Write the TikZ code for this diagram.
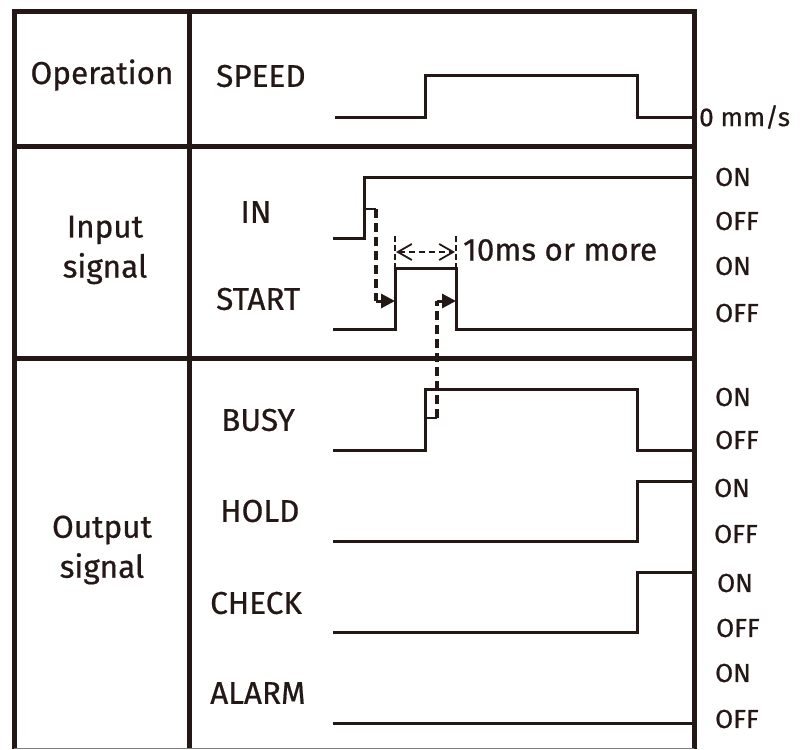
\documentclass[tikz,border=0pt]{standalone}
\usepackage{fontspec}
\setmainfont{Fira Sans}[FakeBold=0.6]
\usetikzlibrary{arrows.meta}
\definecolor{ink}{RGB}{35,24,21}
\tikzset{
  frame/.style={line width=5pt, ink},
  sig/.style={line width=3pt, ink, line join=miter},
  dsh/.style={line width=3.2pt, ink, dash pattern=on 9pt off 5pt},
  arr/.style={line width=3pt, ink, -{Triangle[length=14pt,width=14pt]}},
  dim/.style={line width=1.8pt, ink, dash pattern=on 6pt off 4pt, {Straight Barb[length=14pt,width=16pt,line width=1.8pt]}-{Straight Barb[length=14pt,width=16pt,line width=1.8pt]}},
  tick/.style={line width=1.8pt, ink, dash pattern=on 6pt off 3pt},
  big/.style={font=\fontsize{31.5}{40}\selectfont, text=ink, inner sep=0pt},
  small/.style={font=\fontsize{26}{30}\selectfont, text=ink, inner sep=0pt, anchor=west},
}
\begin{document}
\begin{tikzpicture}[x=1pt,y=-1pt]
\useasboundingbox (0,0) rectangle (802,749);
% frame
\coordinate (tl) at (14,12);
\coordinate (tr) at (694,12);
\coordinate (bl) at (14,749);
\coordinate (br) at (694,749);
\draw[frame] (14,749) -- (14,12) -- (694,12) -- (694,749);
\draw[frame] (189,12) -- (189,749);
\draw[frame] (14,146) -- (694,146);
\draw[frame] (14,358) -- (694,358);
\draw[line width=1pt, gray] (14,748) -- (694,748);
% left column
\node[big] (op) at (102,75) {Operation};
\node[big, align=center] (inp) at (105,250) {Input\\signal};
\node[big, align=center] (outp) at (102,550) {Output\\signal};
% signal names
\node[big, anchor=west] (nspeed) at (216,76) {SPEED};
\node[big] (nin) at (256,212) {IN};
\node[big, anchor=west] (nstart) at (216,299) {START};
\node[big, anchor=west] (nbusy) at (221,420) {BUSY};
\node[big, anchor=west] (nhold) at (220,511) {HOLD};
\node[big, anchor=west] (ncheck) at (210,603) {CHECK};
\node[big, anchor=west] (nalarm) at (210,693) {ALARM};
% signals
\draw[sig] (335,117) -- (425,117) -- (425,76) -- (637,76) -- (637,117) -- (694,117);
\draw[sig] (333,238) -- (364,238) -- (364,177) -- (694,177);
\draw[sig] (333,329) -- (395,329) -- (395,268) -- (456,268) -- (456,329) -- (694,329);
\draw[sig] (333,450) -- (425,450) -- (425,389) -- (637,389) -- (637,450) -- (694,450);
\draw[sig] (333,541) -- (637,541) -- (637,481) -- (694,481);
\draw[sig] (333,632) -- (637,632) -- (637,572) -- (694,572);
\draw[sig] (333,723) -- (694,723);
% causal dashed arrows
\coordinate (a1) at (376,209);
\coordinate (a2) at (376,301);
\coordinate (a3) at (395,301);
\draw[line width=2.5pt, ink] (364,209) -- (a1);
\draw[dsh] (a1) -- (a2);
\draw[arr] (a2) -- (a3);
\coordinate (b1) at (437,418);
\coordinate (b2) at (437,301);
\coordinate (b3) at (456,301);
\draw[line width=2.5pt, ink] (425,418) -- (b1);
\draw[dsh] (b1) -- (b2);
\draw[arr] (b2) -- (b3);
% dimension
\coordinate (d1) at (396,252);
\coordinate (d2) at (455,252);
\draw[tick] (395,236) -- (395,268);
\draw[tick] (456,236) -- (456,268);
\draw[dim] (d1) -- (d2);
\node[big, anchor=west] (tenms) at (463,250) {10ms or more};
% right labels
\node[small] (l0) at (699,117) {0 mm/s};
\node[small] (r1) at (715,177) {ON};
\node[small] (r2) at (715,221) {OFF};
\node[small] (r3) at (715,266) {ON};
\node[small] (r4) at (715,313) {OFF};
\node[small] (r5) at (715,397) {ON};
\node[small] (r6) at (715,440) {OFF};
\node[small] (r7) at (714,488) {ON};
\node[small] (r8) at (714,534) {OFF};
\node[small] (r9) at (717,583) {ON};
\node[small] (r10) at (716,628) {OFF};
\node[small] (r11) at (715,673) {ON};
\node[small] (r12) at (715,719) {OFF};
\end{tikzpicture}
\end{document}
